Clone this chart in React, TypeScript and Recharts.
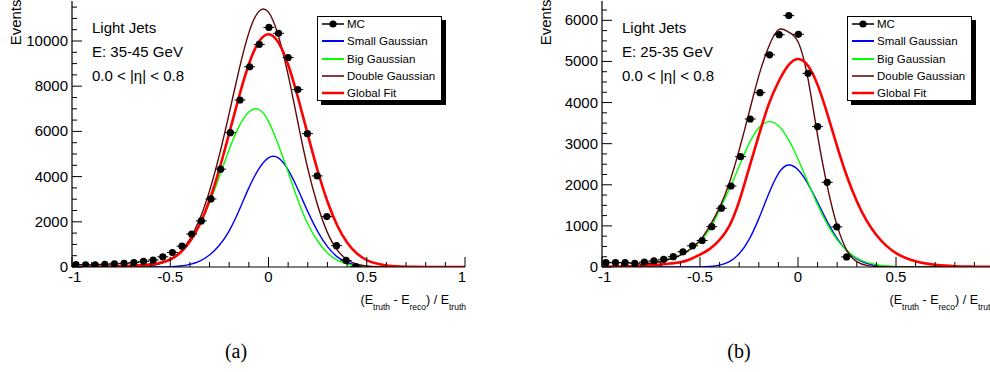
import React from 'react';
import { ComposedChart, Line, Scatter, XAxis, YAxis } from 'recharts';

// x positions used for the fitted curves
const curveX = [-1, -0.95, -0.9, -0.85, -0.8, -0.75, -0.7, -0.65, -0.6, -0.55, -0.5, -0.45, -0.4, -0.35, -0.3, -0.25, -0.2, -0.15, -0.1, -0.05, 0, 0.05, 0.1, 0.15, 0.2, 0.25, 0.3, 0.35, 0.4, 0.45, 0.5, 0.55, 0.6, 0.65, 0.7, 0.75, 0.8, 0.85, 0.9, 0.95, 1];

// panel (a): E 35-45 GeV
const smallA = [0, 0, 0, 0, 0, 0, 0, 0, 1, 5, 16, 45, 114, 262, 530, 960, 1600, 2500, 3500, 4330, 4830, 4830, 4300, 3430, 2450, 1580, 900, 450, 200, 80, 28, 8, 2, 0, 0, 0, 0, 0, 0, 0, 0];
const bigA = [0, 0, 0, 0, 1, 4, 10, 28, 66, 150, 318, 622, 1120, 1860, 2840, 4000, 5200, 6220, 6860, 6970, 6445, 5405, 4200, 2950, 1900, 1150, 620, 300, 130, 50, 17, 5, 1, 0, 0, 0, 0, 0, 0, 0, 0];
const doubleA = [0, 0, 0, 0, 1, 4, 10, 28, 67, 155, 334, 667, 1234, 2122, 3370, 4960, 6800, 8720, 10360, 11300, 11275, 10235, 8500, 6380, 4350, 2730, 1520, 750, 330, 130, 45, 13, 3, 0, 0, 0, 0, 0, 0, 0, 0];
const globalA = [5, 7, 10, 16, 25, 35, 50, 75, 115, 190, 330, 623, 1123, 1887, 2960, 4333, 5920, 7540, 8970, 9950, 10300, 9940, 8950, 7500, 5860, 4270, 2900, 1835, 1080, 595, 305, 150, 70, 30, 12, 5, 2, 1, 0, 0, 0];

// panel (b): E 25-35 GeV
const smallB = [0, 0, 0, 0, 0, 0, 0, 0, 0, 1, 3, 14, 45, 131, 320, 665, 1177, 1773, 2273, 2480, 2364, 2030, 1572, 1096, 689, 390, 199, 91, 38, 14, 5, 2, 0, 0, 0, 0, 0, 0, 0, 0, 0];
const bigB = [5, 8, 15, 28, 50, 85, 130, 200, 290, 430, 620, 930, 1390, 1900, 2450, 3000, 3380, 3535, 3436, 3112, 2629, 2070, 1518, 1037, 661, 392, 217, 112, 54, 24, 10, 4, 1, 0, 0, 0, 0, 0, 0, 0, 0];
const doubleB = [5, 8, 15, 28, 50, 85, 130, 200, 290, 431, 650, 1000, 1450, 2050, 2850, 3750, 4650, 5350, 5770, 5720, 5480, 4600, 3200, 1950, 1000, 400, 130, 40, 12, 4, 1, 0, 0, 0, 0, 0, 0, 0, 0, 0, 0];
const globalB = [5, 8, 12, 18, 30, 42, 60, 85, 115, 190, 300, 440, 660, 1000, 1600, 2400, 3200, 3950, 4500, 4900, 5060, 4900, 4430, 3720, 2930, 2200, 1600, 1130, 780, 520, 340, 220, 140, 88, 55, 33, 20, 12, 7, 4, 2];

// MC histogram bin centres and contents
const mcX = [-0.98, -0.931, -0.882, -0.833, -0.784, -0.735, -0.685, -0.636, -0.587, -0.538, -0.489, -0.44, -0.391, -0.342, -0.293, -0.244, -0.194, -0.145, -0.096, -0.047, 0.002, 0.051, 0.1, 0.149, 0.198, 0.248, 0.297, 0.346, 0.395, 0.444];
const mcA = [110, 95, 100, 120, 140, 160, 200, 250, 310, 450, 640, 920, 1460, 2040, 3010, 4330, 5945, 7390, 8860, 9850, 10600, 10340, 9270, 7850, 5900, 4030, 2230, 945, 290, 20];
const mcB = [105, 105, 105, 90, 120, 148, 187, 250, 370, 515, 645, 980, 1430, 1970, 2684, 3600, 4240, 5160, 5650, 6115, 5660, 4710, 3415, 2060, 975, 245];

const xTicks = [-1, -0.9, -0.8, -0.7, -0.6, -0.5, -0.4, -0.3, -0.2, -0.1, 0, 0.1, 0.2, 0.3, 0.4, 0.5, 0.6, 0.7, 0.8, 0.9, 1];
const yTicksA = [0, 500, 1000, 1500, 2000, 2500, 3000, 3500, 4000, 4500, 5000, 5500, 6000, 6500, 7000, 7500, 8000, 8500, 9000, 9500, 10000, 10500, 11000, 11500];
const yTicksB = [0, 250, 500, 750, 1000, 1250, 1500, 1750, 2000, 2250, 2500, 2750, 3000, 3250, 3500, 3750, 4000, 4250, 4500, 4750, 5000, 5250, 5500, 5750, 6000, 6250];

const legendNames = ['MC', 'Small Gaussian', 'Big Gaussian', 'Double Gaussian', 'Global Fit'];

const SANS = '"Liberation Sans", Arial, Helvetica, sans-serif';
const SERIF = '"Liberation Serif", "DejaVu Serif", serif';
const C_SMALL = '#0000ff';
const C_BIG = '#00ff00';
const C_DOUBLE = '#5e0808';
const C_GLOBAL = '#ff0000';
const legendColors = ['#000', C_SMALL, C_BIG, '#8c3c3c', C_GLOBAL];

const isMajorX = (v: number) => Math.abs(v * 2 - Math.round(v * 2)) < 1e-6;

const makeBottomTick = (showLast: boolean) => (props: any) => {
    const { x, y, payload } = props;
    const v = payload.value;
    const major = isMajorX(v);
    let anchor = 'middle';
    let tx = x;
    if (v === -1) { anchor = 'start'; tx = x - 4; }
    if (v === 1) { anchor = 'end'; tx = x + 1; }
    const label = major && (v !== 1 || showLast);
    return (
        <g>
            <line x1={x} y1={y} x2={x} y2={y - (major ? 10 : 5)} stroke="#000" />
            {label && <text x={tx} y={y + 15} textAnchor={anchor} fontSize={15} fontFamily={SANS} fill="#000">{String(v)}</text>}
        </g>
    );
};

const TopTick = (props: any) => {
    const { x, y, payload } = props;
    const major = isMajorX(payload.value);
    return <line x1={x} y1={y} x2={x} y2={y + (major ? 10 : 5)} stroke="#000" />;
};

const makeLeftTick = (step: number) => (props: any) => {
    const { x, y, payload } = props;
    const major = payload.value % step === 0;
    return (
        <g>
            <line x1={x} y1={y} x2={x + (major ? 10 : 5)} y2={y} stroke="#000" />
            {major && <text x={x - 4} y={y + 5} textAnchor="end" fontSize={15} fontFamily={SANS} fill="#000">{String(payload.value)}</text>}
        </g>
    );
};

const makeRightTick = (step: number) => (props: any) => {
    const { x, y, payload } = props;
    const major = payload.value % step === 0;
    return <line x1={x} y1={y} x2={x - (major ? 10 : 5)} y2={y} stroke="#000" />;
};

const McDot = (props: any) => {
    const { cx, cy } = props;
    return (
        <g>
            <line x1={cx - 5.5} y1={cy} x2={cx + 5.5} y2={cy} stroke="#000" strokeWidth={1} />
            <circle cx={cx} cy={cy} r={3.6} fill="#000" />
        </g>
    );
};

const toPts = (xs: number[], ys: number[]) => ys.map((y, i) => ({ x: xs[i], y }));

const Legend: React.FC = () => (
    <div style={{ position: 'absolute', left: 317, top: 16, width: 125, height: 85, boxSizing: 'border-box', border: '1px solid #000', background: '#fff', boxShadow: '4px 4px 0 #000', fontFamily: SANS, fontSize: 11.5, color: '#000' }}>
        {legendNames.map((name, i) => (
            <div key={name} style={{ position: 'absolute', left: 0, top: 8 + i * 17.25 - 9, height: 16, width: 123, display: 'flex', alignItems: 'center' }}>
                <svg width={22} height={16} style={{ position: 'absolute', left: 4, top: 0 }}>
                    <line x1={0} y1={8} x2={22} y2={8} stroke={legendColors[i]} strokeWidth={i === 4 ? 2.5 : i === 0 ? 1.5 : 2} />
                    {i === 0 && <circle cx={11} cy={8} r={3.6} fill="#000" />}
                </svg>
                <span style={{ position: 'absolute', left: 29, lineHeight: '16px', whiteSpace: 'nowrap' }}>{name}</span>
            </div>
        ))}
    </div>
);

interface PanelProps {
    left: number;
    width: number;
    plotW: number;
    yMax: number;
    yTicks: number[];
    yStep: number;
    mc: number[];
    small: number[];
    big: number[];
    dbl: number[];
    glob: number[];
    energy: string;
    caption: string;
    captionX: number;
    showLast: boolean;
}

const Panel: React.FC<PanelProps> = ({ left, width, plotW, yMax, yTicks, yStep, mc, small, big, dbl, glob, energy, caption, captionX, showLast }) => {
    const right = width - 72 - plotW;
    const titleX = 72 + plotW + 1;
    return (
        <div style={{ position: 'absolute', left, top: 0, width, height: 372 }}>
            <ComposedChart width={width} height={372} margin={{ top: 1, right, bottom: 0, left: 0 }}>
                <XAxis xAxisId="b" type="number" dataKey="x" domain={[-1, 1]} allowDataOverflow ticks={xTicks} interval={0}
                    height={105} tickLine={false} tickSize={0} tickMargin={0} axisLine={{ stroke: '#000', strokeWidth: 1.2 }} tick={makeBottomTick(showLast)} />
                <XAxis xAxisId="t" orientation="top" type="number" dataKey="x" domain={[-1, 1]} allowDataOverflow ticks={xTicks} interval={0}
                    height={0} tickLine={false} tickSize={0} tickMargin={0} axisLine={{ stroke: '#000', strokeWidth: 1.2 }} tick={TopTick} />
                <YAxis yAxisId="l" type="number" dataKey="y" domain={[0, yMax]} allowDataOverflow ticks={yTicks} interval={0}
                    width={72} tickLine={false} tickSize={0} tickMargin={0} axisLine={{ stroke: '#000', strokeWidth: 1.2 }} tick={makeLeftTick(yStep)} />
                <YAxis yAxisId="r" orientation="right" type="number" dataKey="y" domain={[0, yMax]} allowDataOverflow ticks={yTicks} interval={0}
                    width={0} tickLine={false} tickSize={0} tickMargin={0} axisLine={{ stroke: '#000', strokeWidth: 1.2 }} tick={makeRightTick(yStep)} />
                <Line xAxisId="b" yAxisId="l" data={toPts(curveX, small)} dataKey="y" type="natural" stroke={C_SMALL} strokeWidth={1.4} dot={false} isAnimationActive={false} />
                <Line xAxisId="b" yAxisId="l" data={toPts(curveX, big)} dataKey="y" type="natural" stroke={C_BIG} strokeWidth={1.4} dot={false} isAnimationActive={false} />
                <Line xAxisId="b" yAxisId="l" data={toPts(curveX, dbl)} dataKey="y" type="natural" stroke={C_DOUBLE} strokeWidth={1.4} dot={false} isAnimationActive={false} />
                <Line xAxisId="b" yAxisId="l" data={toPts(curveX, glob)} dataKey="y" type="natural" stroke={C_GLOBAL} strokeWidth={2.6} dot={false} isAnimationActive={false} />
                <Scatter xAxisId="b" yAxisId="l" data={toPts(mcX, mc)} dataKey="y" fill="#000" shape={McDot} isAnimationActive={false} />
            </ComposedChart>
            <svg width={width} height={372} style={{ position: 'absolute', left: 0, top: 0, pointerEvents: 'none' }}>
                <text transform="translate(20.5,-0.5) rotate(-90)" textAnchor="end" fontSize={15} fontFamily={SANS} fill="#000">Events</text>
                <g fontSize={15} fontFamily={SANS} fill="#000">
                    <text x={92} y={33}>Light Jets</text>
                    <text x={92} y={57}>{energy}</text>
                    <text x={92} y={81}>0.0 &lt; |η| &lt; 0.8</text>
                </g>
                <text x={titleX} y={304} textAnchor="end" fontSize={12.5} fontFamily={SANS} fill="#000">
                    (E<tspan fontSize={8.5} dy={6}>truth</tspan><tspan dy={-6}> - E</tspan><tspan fontSize={8.5} dy={6}>reco</tspan><tspan dy={-6}>) / E</tspan><tspan fontSize={8.5} dy={6}>truth</tspan>
                </text>
                <text x={captionX} y={358} textAnchor="middle" fontSize={20} fontFamily={SERIF} fill="#000">{caption}</text>
            </svg>
            <Legend />
        </div>
    );
};

const App: React.FC = () => (
    <div style={{ position: 'absolute', left: 0, top: 0, width: 990, height: 372, overflow: 'hidden', background: '#fff' }}>
        <Panel left={0} width={490} plotW={393} yMax={11770} yTicks={yTicksA} yStep={2000}
            mc={mcA} small={smallA} big={bigA} dbl={doubleA} glob={globalA}
            energy="E: 35-45 GeV" caption="(a)" captionX={236} showLast={true} />
        <Panel left={530} width={470} plotW={392} yMax={6470} yTicks={yTicksB} yStep={1000}
            mc={mcB} small={smallB} big={bigB} dbl={doubleB} glob={globalB}
            energy="E: 25-35 GeV" caption="(b)" captionX={209} showLast={false} />
    </div>
);

export default App;
